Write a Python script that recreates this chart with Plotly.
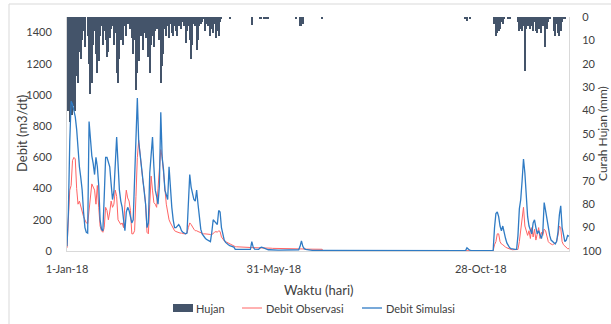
import pandas as pd
import plotly.graph_objects as go

start_date = "2018-01-01"

# Daily rainfall (mm), 1 Jan 2018 .. 31 Dec 2018
hujan = [
    12, 40, 45, 30, 42, 38, 40, 25, 28, 15,
    18, 10, 6, 13, 0, 8, 20, 33, 28, 12,
    6, 16, 24, 19, 8, 4, 12, 6, 10, 17,
    15, 9, 5, 4, 12, 7, 24, 28, 18, 10,
    6, 12, 4, 8, 3, 0, 5, 9, 16, 10,
    31, 24, 19, 6, 8, 14, 7, 9, 3, 17,
    24, 12, 8, 13, 6, 5, 3, 10, 28, 21,
    16, 5, 8, 4, 9, 3, 7, 8, 4, 6,
    8, 4, 3, 5, 2, 4, 11, 6, 4, 10,
    18, 12, 3, 4, 14, 10, 4, 3, 2, 1,
    6, 3, 4, 2, 8, 5, 7, 3, 9, 6,
    8, 2, 1, 0, 0, 0, 0, 0, 1, 0,
    0, 0, 0, 0, 0, 0, 0, 0, 0, 0,
    0, 0, 0, 0, 3.5, 0, 0, 0, 0, 0,
    1, 1, 0, 1, 1, 0, 1, 0, 0, 0,
    0, 0, 0, 0, 0, 0, 0, 0, 0, 0,
    0, 0, 0, 0, 0, 0, 1, 0, 0, 4,
    4, 3, 0, 0, 0, 0, 0, 0, 0, 0,
    0, 0, 0, 0, 0, 1, 0, 0, 0, 0,
    0, 0, 0, 0, 0, 0, 0, 0, 0, 0,
    0, 0, 0, 0, 0, 0, 0, 0, 0, 0,
    0, 0, 0, 0, 0, 0, 0, 0, 0, 0,
    0, 0, 0, 0, 0, 0, 0, 0, 0, 0,
    0, 0, 0, 0, 0, 0, 0, 0, 0, 0,
    0, 0, 0, 0, 0, 0, 0, 0, 0, 0,
    0, 0, 0, 0, 0, 0, 0, 0, 0, 0,
    0, 0, 0, 0, 0, 0, 0, 0, 0, 0,
    0, 0, 0, 0, 0, 0, 0, 0, 0, 0,
    0, 0, 0, 0, 0, 0, 0, 0, 0, 1,
    1.5, 0, 1, 0, 0, 0, 0, 0, 0, 0,
    0, 0, 0, 0, 0, 0, 0, 0, 0, 0,
    3, 8, 7, 6, 5, 2, 3, 1, 0, 0,
    1, 0.5, 0, 0, 0, 0, 0, 2, 6, 5,
    6, 4, 23, 5, 4, 3, 5, 4, 6, 2,
    6, 7, 5, 3, 7, 4, 2, 13, 5, 2,
    1, 0, 0, 6, 8, 3, 7, 8, 6, 2,
    1, 1, 0, 0, 0,
]

# Observed discharge (m3/dt)
debit_observasi = [
    20, 220, 390, 420, 580, 600, 590, 400, 300, 320,
    280, 250, 220, 200, 180, 175, 250, 330, 430, 410,
    390, 300, 420, 280, 160, 130, 120, 150, 280, 260,
    200, 250, 320, 280, 300, 390, 350, 200, 180, 170,
    180, 150, 300, 390, 340, 320, 260, 110, 110, 130,
    350, 600, 710, 620, 520, 450, 390, 300, 120, 110,
    300, 480, 390, 310, 300, 280, 400, 520, 650, 600,
    500, 380, 300, 250, 200, 180, 160, 150, 130, 125,
    120, 120, 115, 115, 110, 110, 110, 115, 150, 180,
    170, 150, 140, 130, 130, 125, 120, 115, 115, 110,
    110, 110, 108, 108, 106, 105, 115, 120, 125, 120,
    130, 125, 90, 75, 65, 60, 55, 50, 45, 40,
    35, 30, 28, 27, 27, 26, 26, 25, 25, 24,
    24, 23, 23, 22, 22, 22, 21, 21, 21, 20,
    20, 20, 19, 19, 19, 18, 18, 18, 18, 17,
    17, 17, 17, 16, 16, 16, 16, 15, 15, 15,
    15, 15, 14, 14, 14, 14, 14, 13, 13, 13,
    13, 13, 13, 12, 12, 12, 12, 12, 12, 12,
    11, 11, 11, 11, 11, 11, 2, 2, 2, 2,
    2, 2, 2, 2, 2, 2, 2, 2, 2, 2,
    2, 2, 2, 2, 2, 2, 2, 2, 2, 2,
    2, 2, 2, 2, 2, 2, 2, 2, 2, 2,
    2, 2, 2, 2, 2, 2, 2, 2, 2, 2,
    2, 2, 2, 2, 2, 2, 2, 2, 2, 2,
    2, 2, 2, 2, 2, 2, 2, 2, 2, 2,
    2, 2, 2, 2, 2, 2, 2, 2, 2, 2,
    2, 2, 2, 2, 2, 2, 2, 2, 2, 2,
    2, 2, 2, 2, 2, 2, 2, 2, 2, 2,
    2, 2, 2, 2, 2, 2, 2, 2, 2, 2,
    2, 2, 2, 2, 2, 2, 2, 2, 2, 2,
    2, 2, 2, 2, 2, 2, 2, 2, 2, 2,
    40, 60, 110, 110, 60, 45, 40, 30, 25, 20,
    15, 12, 10, 8, 8, 8, 8, 10, 60, 140,
    200, 280, 160, 120, 100, 130, 80, 150, 90, 140,
    70, 110, 150, 80, 120, 100, 140, 130, 90, 60,
    50, 45, 40, 45, 50, 60, 100, 160, 150, 60,
    40, 30, 20, 15, 15,
]

# Simulated discharge (m3/dt)
debit_simulasi = [
    30, 250, 700, 960, 940, 900, 860, 780, 650, 540,
    470, 390, 250, 150, 120, 115, 830, 700, 610, 560,
    490, 600, 540, 420, 200, 140, 130, 350, 600, 600,
    560, 540, 430, 330, 380, 560, 730, 560, 390, 320,
    280, 200, 130, 250, 280, 260, 220, 180, 200, 450,
    800, 980, 700, 620, 560, 480, 420, 300, 150, 180,
    500, 600, 730, 540, 390, 350, 300, 420, 890, 600,
    520, 390, 350, 330, 540, 390, 280, 200, 150, 150,
    160, 170, 155, 130, 120, 115, 110, 115, 300, 490,
    410, 360, 330, 320, 390, 300, 200, 140, 110, 95,
    85, 75, 70, 65, 60, 120, 200, 190, 180, 170,
    260, 250, 150, 100, 70, 55, 45, 40, 35, 30,
    28, 25, 10, 10, 9, 9, 9, 8, 8, 8,
    8, 8, 8, 10, 60, 25, 12, 10, 10, 10,
    20, 25, 22, 18, 12, 9, 8, 8, 7, 7,
    7, 7, 7, 6, 6, 6, 6, 6, 6, 5,
    5, 5, 5, 5, 5, 5, 5, 5, 8, 30,
    65, 30, 15, 10, 8, 6, 5, 5, 4, 4,
    4, 4, 4, 4, 4, 4, 4, 4, 3, 3,
    3, 3, 3, 3, 3, 3, 3, 3, 3, 3,
    3, 3, 3, 3, 3, 3, 3, 3, 3, 3,
    3, 3, 3, 3, 3, 3, 3, 3, 3, 3,
    3, 3, 3, 3, 3, 3, 3, 3, 3, 3,
    3, 3, 3, 3, 3, 3, 3, 3, 3, 3,
    3, 3, 3, 3, 3, 3, 3, 3, 3, 3,
    3, 3, 3, 3, 3, 3, 3, 3, 3, 3,
    3, 3, 3, 3, 3, 3, 3, 3, 3, 3,
    3, 3, 3, 3, 3, 3, 3, 3, 3, 3,
    3, 3, 3, 3, 3, 3, 3, 3, 3, 3,
    20, 10, 5, 4, 3, 3, 3, 3, 3, 3,
    3, 3, 3, 3, 3, 3, 3, 3, 3, 3,
    150, 240, 250, 220, 160, 130, 160, 110, 80, 50,
    30, 20, 15, 12, 10, 10, 10, 100, 270, 330,
    450, 590, 500, 330, 220, 160, 130, 110, 180, 200,
    150, 110, 130, 100, 80, 120, 310, 260, 200, 140,
    100, 70, 60, 50, 45, 60, 120, 230, 290, 150,
    90, 60, 70, 100, 95,
]

x_tick_dates = ["2018-01-01", "2018-05-31", "2018-10-28"]
x_tick_labels = ["1-Jan-18", "31-May-18", "28-Oct-18"]
debit_ticks = [0, 200, 400, 600, 800, 1000, 1200, 1400]
hujan_ticks = [0, 10, 20, 30, 40, 50, 60, 70, 80, 90, 100]

series_names = ["Hujan", "Debit Observasi", "Debit Simulasi"]

FONT = "Lato"
TXT = "#404040"
AX = "#D9D9D9"
C_RAIN = "#44546A"
C_OBS = "#FF6464"
C_SIM = "#2F7BC4"

# pixel -> paper helpers (plot area: x 67..569, y 17..251)
L, R, T, B = 67, 569, 17, 251
def px(xp):
    return (xp - L) / (R - L)
def py(yp):
    return (B - yp) / (B - T)

d_rain = pd.date_range(start_date, periods=len(hujan), freq="D")
d_obs = pd.date_range(start_date, periods=len(debit_observasi), freq="D")
d_sim = pd.date_range(start_date, periods=len(debit_simulasi), freq="D")

fig = go.Figure()
fig.add_trace(go.Bar(x=d_rain, y=hujan, name=series_names[0], yaxis="y",
                     marker=dict(color=C_RAIN, line=dict(width=0)),
                     width=86400000 * 0.85))
fig.add_trace(go.Scatter(x=d_obs, y=debit_observasi, name=series_names[1],
                         yaxis="y2", mode="lines",
                         line=dict(color=C_OBS, width=1)))
fig.add_trace(go.Scatter(x=d_sim, y=debit_simulasi, name=series_names[2],
                         yaxis="y2", mode="lines",
                         line=dict(color=C_SIM, width=1.3)))

tickfont = dict(family=FONT, size=11, color=TXT)
fig.update_layout(
    width=611, height=324,
    margin=dict(l=L, r=611 - R, t=T, b=324 - B, pad=0, autoexpand=False),
    paper_bgcolor="white", plot_bgcolor="white",
    showlegend=False, bargap=0,
    font=dict(family=FONT, color=TXT),
    xaxis=dict(type="date", range=["2018-01-01", "2018-12-31"],
               tickvals=x_tick_dates, ticktext=x_tick_labels,
               showgrid=False, zeroline=False, showline=True,
               linecolor=AX, linewidth=1, ticks="", tickfont=tickfont,
               ticklabelstandoff=8, automargin=False),
    yaxis=dict(side="right", range=[100, 0], tickvals=hujan_ticks,
               showgrid=False, zeroline=False, showline=True,
               linecolor=AX, linewidth=1, ticks="", tickfont=tickfont,
               ticklabelstandoff=10, automargin=False),
    yaxis2=dict(side="left", overlaying="y", anchor="x", range=[0, 1500],
                tickvals=debit_ticks, showgrid=False, zeroline=False,
                showline=True, linecolor=AX, linewidth=1, ticks="",
                tickfont=tickfont, ticklabelstandoff=12, automargin=False),
)

ann = [
    dict(text="Debit (m3/dt)", x=px(22), y=0.5, textangle=-90,
         font=dict(family=FONT, size=13, color=TXT)),
    dict(text="Waktu (hari)", x=px(319), y=py(290),
         font=dict(family=FONT, size=13, color=TXT)),
    dict(text="Curah Hujan (mm)", x=px(602), y=py(134), textangle=-90,
         font=dict(family=FONT, size=12, color=TXT)),
]
for a in ann:
    a.update(xref="paper", yref="paper", showarrow=False,
             xanchor="center", yanchor="middle")

leg_y = py(308)
legend_text = [(series_names[0], 194), (series_names[1], 264), (series_names[2], 384)]
for t, x0 in legend_text:
    ann.append(dict(text=t, x=px(x0), y=leg_y, xref="paper", yref="paper",
                    showarrow=False, xanchor="left", yanchor="middle",
                    font=dict(family=FONT, size=11, color=TXT)))
fig.update_layout(annotations=ann)

shapes = [
    dict(type="rect", xref="paper", yref="paper", x0=px(173), x1=px(193),
         y0=py(312), y1=py(304), fillcolor=C_RAIN, line=dict(width=0)),
    dict(type="line", xref="paper", yref="paper", x0=px(242), x1=px(262),
         y0=leg_y, y1=leg_y, line=dict(color=C_OBS, width=1)),
    dict(type="line", xref="paper", yref="paper", x0=px(362), x1=px(382),
         y0=leg_y, y1=leg_y, line=dict(color=C_SIM, width=1.3)),
    dict(type="rect", xref="paper", yref="paper", x0=px(9), x1=px(640),
         y0=py(340), y1=py(4), fillcolor="rgba(0,0,0,0)",
         line=dict(color="#D9D9D9", width=1), layer="below"),
]
fig.update_layout(shapes=shapes)

page_fix = ("document.body.style.margin='0';"
            "document.body.style.overflow='hidden';")
fig.write_html("out.html", post_script=page_fix,
               config={"displayModeBar": False})
